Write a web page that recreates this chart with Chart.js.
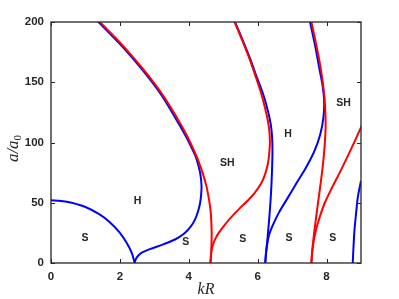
<!DOCTYPE html>
<html>
<head>
<meta charset="utf-8">
<script src="https://cdn.jsdelivr.net/npm/chart.js@4.4.0/dist/chart.umd.min.js"></script>
<style>
  html, body { margin: 0; padding: 0; background: #fff; }
</style>
</head>
<body>
<canvas id="chart" width="399" height="299"></canvas>
<script>
// tick labels
const xTicks = [0, 2, 4, 6, 8];
const yTicks = [0, 50, 100, 150, 200];

// blue branches
const blueAx = [0, 0.3, 0.6, 1.0, 1.4, 1.7, 2.0, 2.2, 2.35, 2.43];
const blueAy = [52, 51.5, 50, 46.5, 40.5, 34, 25, 16.5, 8, 0];

const blueBx = [2.43, 2.46, 2.53, 2.65, 2.87, 3.26, 3.6, 3.85, 4.05, 4.18, 4.27, 4.33, 4.36, 4.37,
                4.34, 4.28, 4.19, 4.06, 3.88, 3.62, 3.19, 2.66, 2.06, 1.38, 1.235];
const blueBy = [0, 3, 6, 8.8, 11.5, 15.5, 19.5, 24, 30, 36, 43, 50, 57, 64,
                73, 81, 89, 97, 107, 120, 140, 160, 180, 200, 204];

const blueEx = [6.22, 6.25, 6.29, 6.33, 6.37, 6.4, 6.42, 6.43, 6.42, 6.38, 6.3, 6.16, 5.965, 5.775, 5.55, 5.34, 5.26];
const blueEy = [0, 10, 22, 35, 50, 65, 80, 92, 104, 115, 126, 140, 155, 170, 186, 200, 205];

const blueFx = [6.22, 6.24, 6.28, 6.34, 6.45, 6.62, 6.85, 7.1, 7.4, 7.65, 7.82, 7.91, 7.93, 7.88, 7.78, 7.67, 7.52, 7.48];
const blueFy = [0, 8, 16, 24, 32, 42, 53, 65, 79, 93, 107, 121, 134, 148, 163, 180, 200, 205];

const blueIx = [8.76, 8.78, 8.81, 8.86, 8.91, 9.0, 9.05];
const blueIy = [0, 12, 27, 42, 55, 68, 75];

// red branches
const redCx = [1.275, 1.42, 2.1, 2.7, 3.23, 3.67, 3.96, 4.14, 4.29, 4.41, 4.51, 4.58, 4.63, 4.655, 4.665, 4.655, 4.63];
const redCy = [204, 200, 180, 160, 140, 120, 105, 94, 84, 74, 64, 54, 44, 34, 24, 12, 0];

const redDx = [4.63, 4.64, 4.66, 4.7, 4.77, 4.87, 5.0, 5.2, 5.45, 5.7, 5.92, 6.1, 6.22, 6.3, 6.34, 6.355,
               6.33, 6.26, 6.12, 5.95, 5.77, 5.55, 5.33, 5.25];
const redDy = [0, 5, 10, 15, 20, 25, 30, 37, 44.5, 51.5, 58.5, 66, 74, 83, 92, 101,
               112, 123, 139, 154, 169, 185, 200, 205];

const redGx = [7.52, 7.56, 7.71, 7.81, 7.89, 7.94, 7.97, 7.97, 7.93, 7.88, 7.8, 7.72, 7.64, 7.59, 7.56];
const redGy = [205, 200, 180, 165, 150, 137, 122, 110, 92, 78, 60, 43, 25, 12, 0];

const redHx = [7.56, 7.58, 7.62, 7.69, 7.8, 7.95, 8.15, 8.4, 8.67, 8.96, 9.1];
const redHy = [0, 8, 17, 27, 38, 50, 62, 76, 92, 110, 119];

// region names
const regionText = ["S", "H", "S", "SH", "S", "H", "S", "S", "SH"];
const regionX = [0.99, 2.51, 3.91, 5.12, 5.57, 6.88, 6.91, 8.18, 8.49];
const regionY = [20.5, 51, 17.7, 83, 19.7, 107, 21, 21, 132.5];

const axisColor = "#262626";

function toPoints(xs, ys) {
    return xs.map((x, i) => ({ x: x, y: ys[i] }));
}

function branch(xs, ys, color) {
    return {
        data: toPoints(xs, ys),
        borderColor: color,
        borderWidth: 2,
        pointRadius: 0,
        showLine: true,
        fill: false,
        tension: 0.3
    };
}

// red first so it sits on top of the blue where they overlap
const datasets = [
    branch(redCx, redCy, "#ff0000"),
    branch(redDx, redDy, "#ff0000"),
    branch(redGx, redGy, "#ff0000"),
    branch(redHx, redHy, "#ff0000"),
    branch(blueAx, blueAy, "#0000ff"),
    branch(blueBx, blueBy, "#0000ff"),
    branch(blueEx, blueEy, "#0000ff"),
    branch(blueFx, blueFy, "#0000ff"),
    branch(blueIx, blueIy, "#0000ff")
];

// box, inward ticks, y title and region names
const framePlugin = {
    id: "frame",
    afterDraw(chart) {
        const { ctx, chartArea: a, scales } = chart;
        const xs = scales.x, ys = scales.y;
        ctx.save();
        ctx.strokeStyle = axisColor;
        ctx.lineWidth = 1.3;
        ctx.strokeRect(a.left, a.top, a.right - a.left, a.bottom - a.top);
        ctx.beginPath();
        xTicks.forEach(v => {
            const px = Math.round(xs.getPixelForValue(v)) + 0.5;
            ctx.moveTo(px, a.bottom); ctx.lineTo(px, a.bottom - 4);
            ctx.moveTo(px, a.top); ctx.lineTo(px, a.top + 4);
        });
        yTicks.forEach(v => {
            const py = Math.round(ys.getPixelForValue(v)) + 0.5;
            ctx.moveTo(a.left, py); ctx.lineTo(a.left + 4, py);
            ctx.moveTo(a.right, py); ctx.lineTo(a.right - 4, py);
        });
        ctx.lineWidth = 1;
        ctx.stroke();

        ctx.fillStyle = axisColor;
        ctx.font = "bold 10.5px 'Liberation Sans', Arial, sans-serif";
        ctx.textAlign = "center";
        ctx.textBaseline = "middle";
        regionText.forEach((t, i) => {
            ctx.fillText(t, xs.getPixelForValue(regionX[i]), ys.getPixelForValue(regionY[i]));
        });

        // a/a0, rotated, with an upright subscript
        ctx.translate(18, (a.top + a.bottom) / 2 + 6);
        ctx.rotate(-Math.PI / 2);
        ctx.textAlign = "left";
        ctx.textBaseline = "alphabetic";
        ctx.font = "italic 17px 'Liberation Serif', 'DejaVu Serif', serif";
        const main = "a/a";
        const w = ctx.measureText(main).width;
        ctx.font = "11px 'Liberation Serif', 'DejaVu Serif', serif";
        const total = w + ctx.measureText("0").width;
        ctx.font = "italic 17px 'Liberation Serif', 'DejaVu Serif', serif";
        ctx.fillText(main, -total / 2, 0);
        ctx.font = "11px 'Liberation Serif', 'DejaVu Serif', serif";
        ctx.fillText("0", -total / 2 + w, 3);
        ctx.restore();
    }
};

new Chart(document.getElementById("chart").getContext("2d"), {
    type: "scatter",
    data: { datasets: datasets },
    options: {
        responsive: false,
        animation: false,
        layout: { padding: { left: 0, top: 22, right: 38, bottom: 0 } },
        plugins: {
            legend: { display: false },
            tooltip: { enabled: false }
        },
        scales: {
            x: {
                type: "linear",
                min: 0,
                max: 9,
                grid: { display: false, drawTicks: false },
                border: { display: false },
                afterBuildTicks: s => { s.ticks = xTicks.map(v => ({ value: v })); },
                afterFit: s => { s.height = 36; },
                ticks: {
                    padding: 7,
                    color: axisColor,
                    font: { family: "'Liberation Sans', Arial, sans-serif", size: 11.5, weight: "bold" }
                },
                title: {
                    display: true,
                    text: "kR",
                    color: axisColor,
                    padding: { top: 0, bottom: 0 },
                    font: { family: "'Liberation Serif', 'DejaVu Serif', serif", size: 16, style: "italic" }
                }
            },
            y: {
                type: "linear",
                min: 0,
                max: 200,
                grid: { display: false, drawTicks: false },
                border: { display: false },
                afterBuildTicks: s => { s.ticks = yTicks.map(v => ({ value: v })); },
                afterFit: s => { s.width = 51; },
                ticks: {
                    padding: 7,
                    color: axisColor,
                    font: { family: "'Liberation Sans', Arial, sans-serif", size: 11.5, weight: "bold" }
                }
            }
        }
    },
    plugins: [framePlugin]
});
</script>
</body>
</html>
